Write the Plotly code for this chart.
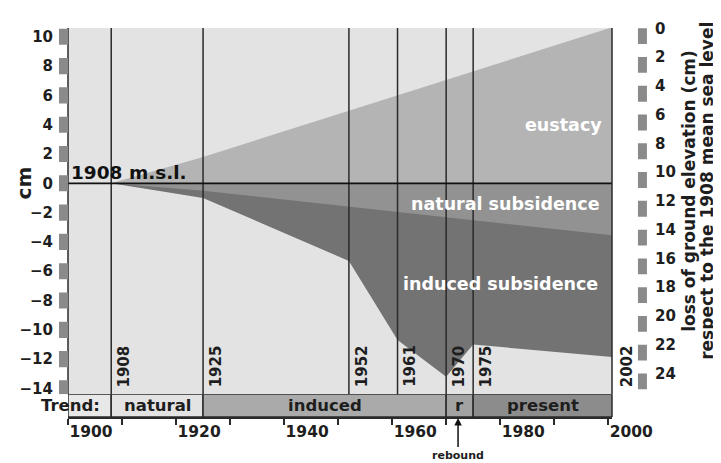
import plotly.graph_objects as go

# ---------------- data ----------------
years_total = [1908, 1925, 1952, 1961, 1970, 1975, 2002]
total_subsidence = [0, -1.0, -5.3, -10.7, -13.2, -11.0, -11.9]   # natural + induced (cm)
years_nat = [1908, 1925, 2002]
natural_subsidence = [0, -0.5, -3.6]                             # cm
years_eus = [1908, 1925, 2002]
eustacy = [0, 1.8, 10.8]                                         # cm

event_years = [1908, 1925, 1952, 1961, 1970, 1975, 2002]
full_lines = [1908, 1925, 1952, 1961, 1970, 1975]

trend_names = ["natural", "induced", "r", "present"]
trend_start = [1908, 1925, 1970, 1975]
trend_end = [1925, 1970, 1975, 2002]

left_ticks = list(range(-14, 11, 2))
right_ticks = list(range(0, 25, 2))
x_ticks = list(range(1900, 2001, 10))
x_ticktext = [str(v) if v % 20 == 0 else "" for v in x_ticks]

# ---------------- style ----------------
X_RANGE = [1900, 2000.7]
Y_RANGE = [-14.4, 10.6]
R_RANGE = [25.45, -0.02]
BG = "#e3e3e3"
C_EUS = "#b4b4b4"
C_NAT = "#929292"
C_IND = "#737373"
TREND_COLORS = ["#e3e3e3", "#aaaaaa", "#a2a2a2", "#8c8c8c"]
LINE = "#2a2a2a"
BAR = "#8a8a8a"
FONT = "DejaVu Sans"
TXT = "#1e1e1e"

# page body has an 8px margin, so the figure is drawn 8px smaller and offset
W, H = 713, 455
ML, MR, MT, MB = 59, 109, 15, 46
plot_w = W - ML - MR
plot_h = H - MT - MB
trend_h = 23
dom_split = trend_h / plot_h

fig = go.Figure()

# induced (total) subsidence, then natural on top, then eustacy
fig.add_trace(go.Scatter(x=years_total, y=total_subsidence, mode="lines", line=dict(width=0),
                         fill="tozeroy", fillcolor=C_IND, hoverinfo="skip", showlegend=False))
fig.add_trace(go.Scatter(x=years_nat, y=natural_subsidence, mode="lines", line=dict(width=0),
                         fill="tozeroy", fillcolor=C_NAT, hoverinfo="skip", showlegend=False))
fig.add_trace(go.Scatter(x=years_eus, y=eustacy, mode="lines", line=dict(width=0),
                         fill="tozeroy", fillcolor=C_EUS, hoverinfo="skip", showlegend=False))
# invisible trace to activate right axis
fig.add_trace(go.Scatter(x=[X_RANGE[0]], y=[0], yaxis="y2", mode="markers",
                         marker=dict(opacity=0), hoverinfo="skip", showlegend=False))
# invisible trace for trend row
fig.add_trace(go.Scatter(x=[X_RANGE[0]], y=[0.5], yaxis="y3", mode="markers",
                         marker=dict(opacity=0), hoverinfo="skip", showlegend=False))

shapes = []
for yr in full_lines:
    shapes.append(dict(type="line", xref="x", yref="y domain", x0=yr, x1=yr, y0=0, y1=1,
                       line=dict(color=LINE, width=1.5), layer="above"))
px = 1.0 / plot_w
shapes.append(dict(type="line", xref="paper", yref="y", x0=-9 * px, x1=1, y0=0, y1=0,
                   line=dict(color="#111111", width=1.8), layer="above"))
shapes.append(dict(type="line", xref="paper", yref="y domain", x0=0, x1=0, y0=0, y1=1,
                   line=dict(color=LINE, width=1.5), layer="above"))
shapes.append(dict(type="line", xref="paper", yref="y domain", x0=1, x1=1, y0=0, y1=1,
                   line=dict(color=LINE, width=1.5), layer="above"))
shapes.append(dict(type="rect", xref="x", yref="y3", x0=X_RANGE[0], x1=trend_start[0], y0=0, y1=1,
                   fillcolor="#e8e8e8", line=dict(color=LINE, width=1.5), layer="below"))
for s, e, c in zip(trend_start, trend_end, TREND_COLORS):
    shapes.append(dict(type="rect", xref="x", yref="y3", x0=s, x1=e, y0=0, y1=1,
                       fillcolor=c, line=dict(color=LINE, width=1.5), layer="below"))
shapes.append(dict(type="line", xref="paper", yref="y3", x0=1, x1=1, y0=0, y1=1,
                   line=dict(color=LINE, width=1.5), layer="above"))
for v in left_ticks:
    y0 = max(v - 0.55, Y_RANGE[0])
    y1 = min(v + 0.55, Y_RANGE[1])
    shapes.append(dict(type="rect", xref="paper", yref="y", x0=-9 * px, x1=0, y0=y0, y1=y1,
                       fillcolor=BAR, line=dict(width=0), layer="above"))
for v in right_ticks:
    shapes.append(dict(type="rect", xref="paper", yref="y2", x0=1 + 26 * px, x1=1 + 35 * px,
                       y0=v, y1=v + 1.1, fillcolor=BAR, line=dict(width=0), layer="above"))

def f(size, color=TXT):
    return dict(family=FONT, size=size, color=color, weight="bold")

annotations = []
for yr in event_years:
    annotations.append(dict(x=min(yr, X_RANGE[1]), y=0, xref="x", yref="y domain",
                            text=str(yr), textangle=-90, showarrow=False,
                            xanchor="left", yanchor="bottom", xshift=2 if yr < 2000 else 4, yshift=5,
                            font=f(15)))
for name, s, e in zip(trend_names, trend_start, trend_end):
    annotations.append(dict(x=(s + min(e, X_RANGE[1])) / 2, y=0.5, xref="x", yref="y3",
                            text=name, showarrow=False, xanchor="center", yanchor="middle",
                            font=f(16.5)))
annotations.append(dict(x=3 * px, y=0.5, xref="paper", yref="y3", text="Trend:", showarrow=False,
                        xanchor="center", yanchor="middle", font=f(16.5)))
annotations.append(dict(x=X_RANGE[0], y=0, xref="x", yref="y", text="1908 m.s.l.", showarrow=False,
                        xanchor="left", yanchor="bottom", xshift=1, yshift=-2,
                        font=f(18.5, "#111111")))
annotations.append(dict(x=1991.7, y=4.0, xref="x", yref="y", text="eustacy", showarrow=False,
                        font=f(17.5, "white")))
annotations.append(dict(x=1981, y=-1.4, xref="x", yref="y", text="natural subsidence", showarrow=False,
                        font=f(17.5, "white")))
annotations.append(dict(x=1980, y=-6.9, xref="x", yref="y", text="induced subsidence", showarrow=False,
                        font=f(17.5, "white")))
annotations.append(dict(x=-44 * px, y=0, xref="paper", yref="y", text="cm", textangle=-90,
                        showarrow=False, xanchor="center", yanchor="middle", font=f(20)))
annotations.append(dict(x=1 + 77 * px, y=0.555, xref="paper", yref="y domain",
                        text="loss of ground elevation (cm)",
                        textangle=-90, showarrow=False, xanchor="center", yanchor="middle",
                        font=f(17)))
annotations.append(dict(x=1 + 95 * px, y=0.555, xref="paper", yref="y domain",
                        text="respect to the 1908 mean sea level",
                        textangle=-90, showarrow=False, xanchor="center", yanchor="middle",
                        font=f(17)))
annotations.append(dict(x=1972.2, y=0, xref="x", yref="y3", text="rebound", showarrow=True,
                        arrowhead=2, arrowsize=1, arrowwidth=1.5, arrowcolor="#111111",
                        ax=0, ay=38, standoff=1, font=f(11)))

fig.update_layout(
    width=W, height=H,
    margin=dict(l=ML, r=MR, t=MT, b=MB),
    paper_bgcolor="white",
    plot_bgcolor=BG,
    showlegend=False,
    shapes=shapes,
    annotations=annotations,
    xaxis=dict(range=X_RANGE, anchor="y3", domain=[0, 1], showgrid=False, zeroline=False,
               showline=True, linecolor=LINE, linewidth=1.5,
               tickmode="array", tickvals=x_ticks, ticktext=x_ticktext,
               ticks="outside", ticklen=6, tickwidth=1.5, tickcolor=LINE,
               ticklabelposition="outside right",
               tickfont=f(15.5)),
    yaxis=dict(range=Y_RANGE, domain=[dom_split, 1], anchor="x", showgrid=False, zeroline=False,
               showline=False, tickmode="array", tickvals=left_ticks, ticks="",
               ticklabelstandoff=14, tickfont=f(15)),
    yaxis2=dict(range=R_RANGE, overlaying="y", side="right", anchor="x", showgrid=False,
                zeroline=False, showline=False, tickmode="array", tickvals=right_ticks, ticks="",
                ticklabelstandoff=42, tickfont=f(15)),
    yaxis3=dict(range=[0, 1], domain=[0, dom_split], anchor="x", showgrid=False, zeroline=False,
                showline=False, showticklabels=False, ticks=""),
)

fig.write_html("out.html")
